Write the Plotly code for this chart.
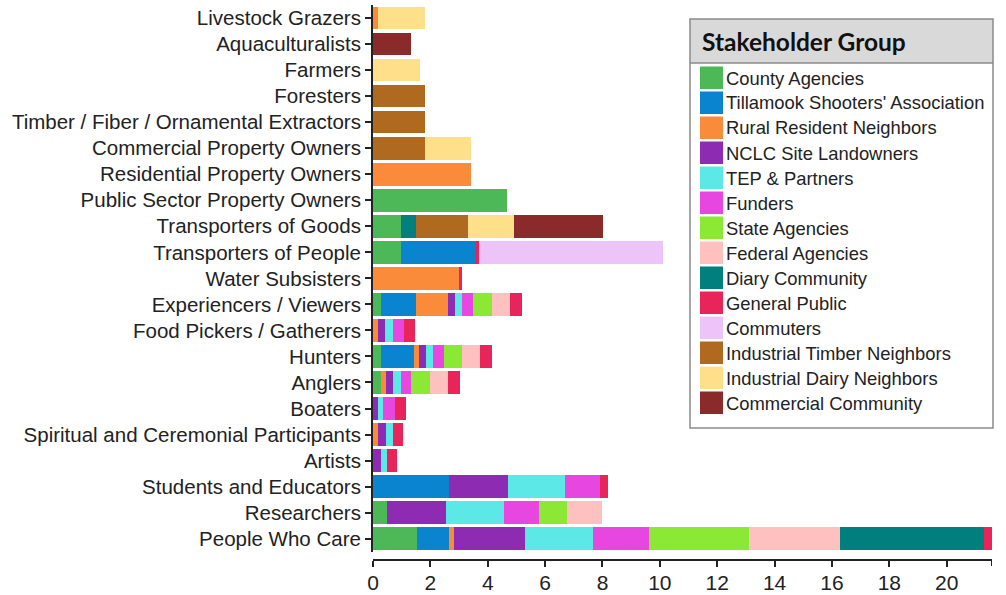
import plotly.graph_objects as go

# Stakeholder categories, listed top to bottom as in the chart
categories = [
    "Livestock Grazers", "Aquaculturalists", "Farmers", "Foresters",
    "Timber / Fiber / Ornamental Extractors", "Commercial Property Owners",
    "Residential Property Owners", "Public Sector Property Owners",
    "Transporters of Goods", "Transporters of People", "Water Subsisters",
    "Experiencers / Viewers", "Food Pickers / Gatherers", "Hunters", "Anglers",
    "Boaters", "Spiritual and Ceremonial Participants", "Artists",
    "Students and Educators", "Researchers", "People Who Care",
]

# Segment values per stakeholder group (same order as categories)
county_agencies = [0, 0, 0, 0, 0, 0, 0, 4.68, 0.96, 0.96, 0, 0.29, 0, 0.29, 0.29, 0, 0, 0, 0, 0.48, 1.54]
tillamook_shooters = [0, 0, 0, 0, 0, 0, 0, 0, 0, 2.61, 0, 1.21, 0, 1.13, 0, 0, 0, 0, 2.64, 0, 1.10]
rural_residents = [0.18, 0, 0, 0, 0, 0, 3.40, 0, 0, 0, 3.00, 1.12, 0.17, 0.17, 0.17, 0, 0.19, 0, 0, 0, 0.17]
nclc_landowners = [0, 0, 0, 0, 0, 0, 0, 0, 0, 0, 0, 0.25, 0.26, 0.25, 0.24, 0.17, 0.25, 0.27, 2.06, 2.06, 2.48]
tep_partners = [0, 0, 0, 0, 0, 0, 0, 0, 0, 0, 0, 0.25, 0.26, 0.24, 0.26, 0.19, 0.24, 0.22, 2.00, 2.01, 2.39]
funders = [0, 0, 0, 0, 0, 0, 0, 0, 0, 0, 0, 0.38, 0.38, 0.39, 0.37, 0.39, 0, 0, 1.22, 1.22, 1.94]
state_agencies = [0, 0, 0, 0, 0, 0, 0, 0, 0, 0, 0, 0.64, 0, 0.63, 0.64, 0, 0, 0, 0, 0.98, 3.49]
federal_agencies = [0, 0, 0, 0, 0, 0, 0, 0, 0, 0, 0, 0.63, 0, 0.64, 0.63, 0, 0, 0, 0, 1.22, 3.17]
diary_community = [0, 0, 0, 0, 0, 0, 0, 0, 0.54, 0, 0, 0, 0, 0, 0, 0, 0, 0, 0, 0, 5.03]
general_public = [0, 0, 0, 0, 0, 0, 0, 0, 0, 0.14, 0.12, 0.42, 0.41, 0.42, 0.43, 0.39, 0.35, 0.36, 0.28, 0, 0.27]
commuters = [0, 0, 0, 0, 0, 0, 0, 0, 0, 6.40, 0, 0, 0, 0, 0, 0, 0, 0, 0, 0, 0]
timber_neighbors = [0, 0, 0, 1.80, 1.80, 1.80, 0, 0, 1.80, 0, 0, 0, 0, 0, 0, 0, 0, 0, 0, 0, 0]
dairy_neighbors = [1.62, 0, 1.63, 0, 0, 1.63, 0, 0, 1.63, 0, 0, 0, 0, 0, 0, 0, 0, 0, 0, 0, 0]
commercial_community = [0, 1.34, 0, 0, 0, 0, 0, 0, 3.10, 0, 0, 0, 0, 0, 0, 0, 0, 0, 0, 0, 0]

group_names = [
    "County Agencies", "Tillamook Shooters' Association", "Rural Resident Neighbors",
    "NCLC Site Landowners", "TEP & Partners", "Funders", "State Agencies",
    "Federal Agencies", "Diary Community", "General Public", "Commuters",
    "Industrial Timber Neighbors", "Industrial Dairy Neighbors", "Commercial Community",
]
group_values = [
    county_agencies, tillamook_shooters, rural_residents, nclc_landowners,
    tep_partners, funders, state_agencies, federal_agencies, diary_community,
    general_public, commuters, timber_neighbors, dairy_neighbors, commercial_community,
]
group_colors = [
    "#4cb858", "#0b84d0", "#f98b3b", "#8e2bb3", "#5de8e8", "#e846e0", "#8be835",
    "#ffc0c0", "#007f7f", "#e8245a", "#ecc4fa", "#b06a20", "#ffe08a", "#8b2a2a",
]

W, H = 1006, 595
ML, MR, MT, MB = 373, 14, 5, 35
PW, PH = W - ML - MR, H - MT - MB


def px_x(px):
    return (px - ML) / PW


def px_y(py):
    return (H - MB - py) / PH


fig = go.Figure()

for name, vals, col in zip(group_names, group_values, group_colors):
    fig.add_trace(go.Bar(
        y=categories,
        x=vals,
        name=name,
        orientation="h",
        marker=dict(color=col, line=dict(width=0)),
        showlegend=False,
    ))

xmax = max(sum(v[i] for v in group_values) for i in range(len(categories)))

# d3-style outer ticks at the ends of the axis lines
shapes = [
    dict(type="line", xref="x", xsizemode="pixel", xanchor=0, x0=-6, x1=0,
         yref="y domain", y0=1, y1=1, line=dict(color="#222", width=2)),
    dict(type="line", xref="x", xsizemode="pixel", xanchor=0, x0=-6, x1=0,
         yref="y domain", y0=0, y1=0, line=dict(color="#222", width=2)),
    dict(type="line", xref="x", x0=xmax, x1=xmax, yref="paper",
         ysizemode="pixel", yanchor=0, y0=0, y1=-6, line=dict(color="#222", width=2)),
]

# Legend drawn by hand (large square swatches, grey title band)
box_l, box_r, box_t, box_b = 690, 993, 19, 428
title_b = 63
shapes.append(dict(type="rect", xref="paper", yref="paper",
                   x0=px_x(box_l), x1=px_x(box_r), y0=px_y(box_t), y1=px_y(title_b),
                   fillcolor="#d9d9d9", line=dict(width=0), layer="above"))
shapes.append(dict(type="line", xref="paper", yref="paper",
                   x0=px_x(box_l), x1=px_x(box_r), y0=px_y(title_b), y1=px_y(title_b),
                   line=dict(color="#8a8a8a", width=1.5), layer="above"))
shapes.append(dict(type="rect", xref="paper", yref="paper",
                   x0=px_x(box_l), x1=px_x(box_r), y0=px_y(box_t), y1=px_y(box_b),
                   fillcolor="rgba(0,0,0,0)", line=dict(color="#8a8a8a", width=1.5),
                   layer="above"))

annotations = [dict(
    text="<b>Stakeholder Group</b>", xref="paper", yref="paper",
    x=px_x(700), y=px_y(41), xanchor="left", yanchor="middle", showarrow=False,
    font=dict(family="Lato, Noto Sans, sans-serif", size=24.5, color="#111"),
)]

row_top, row_h, sw = 66.5, 25, 23
for i, (name, col) in enumerate(zip(group_names, group_colors)):
    y0 = row_top + i * row_h
    shapes.append(dict(type="rect", xref="paper", yref="paper",
                       x0=px_x(700), x1=px_x(700 + sw), y0=px_y(y0), y1=px_y(y0 + sw - 0.5),
                       fillcolor=col, line=dict(width=0), layer="above"))
    annotations.append(dict(
        text=name, xref="paper", yref="paper",
        x=px_x(724), y=px_y(y0 + sw / 2), xanchor="left", yanchor="middle",
        showarrow=False,
        font=dict(family="Liberation Sans, Arial, sans-serif", size=18.4, color="#222"),
    ))

fig.update_layout(
    width=W, height=H,
    margin=dict(l=ML, r=MR, t=MT, b=MB, autoexpand=False),
    barmode="stack",
    bargap=0.13,
    plot_bgcolor="white",
    paper_bgcolor="white",
    shapes=shapes,
    annotations=annotations,
    font=dict(family="Liberation Sans, Arial, sans-serif", color="#222"),
)

fig.update_yaxes(
    autorange="reversed",
    automargin=False,
    domain=[8.3 / PH, 1],
    showline=True, linecolor="#222", linewidth=2,
    ticks="outside", ticklen=6, tickwidth=2, tickcolor="#222",
    tickfont=dict(size=20.5, color="#222"),
    showgrid=False, zeroline=False,
)
fig.update_xaxes(
    range=[0, xmax],
    automargin=False,
    anchor="free", position=0,
    dtick=2, tick0=0,
    showline=True, linecolor="#222", linewidth=2,
    ticks="outside", ticklen=6, tickwidth=2, tickcolor="#222",
    ticklabelstandoff=-2,
    tickfont=dict(size=21, color="#222"),
    showgrid=False, zeroline=False,
)

# drop the page's default 8px body margin so the figure sits at the window corner
fig.write_html("out.html", config={"displayModeBar": False},
               post_script="document.body.style.margin='0';")
